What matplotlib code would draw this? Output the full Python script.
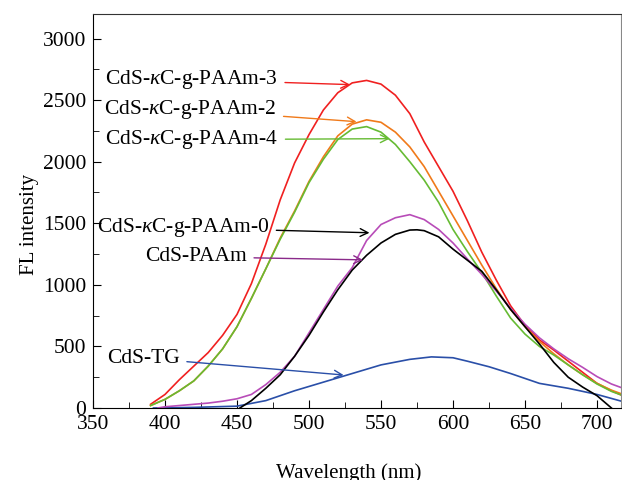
import numpy as np
import matplotlib.pyplot as plt
from matplotlib.ticker import MultipleLocator

plt.rcParams['font.family'] = ['Liberation Serif', 'DejaVu Serif']
plt.rcParams['mathtext.fontset'] = 'custom'
plt.rcParams['mathtext.rm'] = 'Liberation Serif'
plt.rcParams['mathtext.it'] = 'Liberation Serif:italic'

# CdS-kC-g-PAAm-3 (red)
wl_3 = [390, 400, 410, 420, 430, 440, 450, 460, 470, 480, 490, 500, 510, 520, 530, 540,
        550, 560, 570, 580, 590, 600, 610, 620, 630, 640, 650, 660, 670, 680, 690, 700, 710, 717]
fl_3 = [30, 110, 230, 340, 450, 590, 760, 1010, 1330, 1690, 1990, 2220, 2420, 2560, 2640, 2660,
        2630, 2540, 2390, 2160, 1960, 1760, 1520, 1265, 1040, 830, 670, 553, 470, 380, 290, 200, 140, 105]

# CdS-kC-g-PAAm-2 (orange)
wl_2 = [390, 400, 410, 420, 430, 440, 450, 460, 470, 480, 490, 500, 510, 520, 530, 540,
        550, 560, 570, 580, 590, 600, 610, 620, 630, 640, 650, 660, 670, 680, 690, 700, 710, 717]
fl_2 = [20, 70, 140, 220, 340, 480, 660, 890, 1130, 1380, 1600, 1840, 2040, 2210, 2305, 2340,
        2320, 2240, 2120, 1960, 1760, 1560, 1360, 1160, 970, 800, 660, 540, 440, 350, 270, 200, 145, 115]

# CdS-kC-g-PAAm-4 (green)
wl_4 = [390, 400, 410, 420, 430, 440, 450, 460, 470, 480, 490, 500, 510, 520, 530, 540,
        550, 560, 570, 580, 590, 600, 610, 620, 630, 640, 650, 660, 670, 680, 690, 700, 710, 717]
fl_4 = [20, 70, 140, 220, 340, 480, 660, 890, 1130, 1370, 1590, 1830, 2020, 2180, 2265, 2285,
        2240, 2140, 2000, 1850, 1670, 1450, 1270, 1100, 910, 730, 600, 500, 430, 350, 270, 195, 135, 105]

# CdS-kC-g-PAAm-0 (black)
wl_0 = [452, 460, 470, 480, 490, 500, 510, 520, 530, 540, 550, 560, 570, 575, 580, 590,
        600, 610, 620, 630, 640, 650, 660, 670, 680, 690, 700, 710]
fl_0 = [0, 60, 160, 270, 420, 590, 780, 960, 1120, 1240, 1340, 1410, 1445, 1447, 1440, 1390,
        1290, 1200, 1110, 960, 800, 660, 520, 370, 250, 170, 100, 0]

# CdS-PAAm (magenta)
wl_p = [395, 400, 410, 420, 430, 440, 450, 460, 470, 480, 490, 500, 510, 520, 530, 540,
        550, 560, 570, 580, 590, 600, 610, 620, 630, 640, 650, 660, 670, 680, 690, 700, 710, 717]
fl_p = [0, 10, 20, 30, 40, 55, 75, 110, 190, 290, 420, 610, 800, 990, 1140, 1360,
        1490, 1545, 1570, 1530, 1450, 1340, 1210, 1085, 950, 810, 680, 570, 480, 400, 330, 255, 195, 165]

# CdS-TG (blue)
wl_t = [392, 420, 450, 470, 490, 510, 530, 550, 570, 585, 600, 610, 625, 640, 660, 680, 700, 717]
fl_t = [0, 5, 15, 60, 140, 210, 280, 350, 395, 415, 408, 380, 335, 280, 200, 160, 110, 55]

labels = ['CdS-$\\mathit{κ}$C-g-PAAm-3', 'CdS-$\\mathit{κ}$C-g-PAAm-2', 'CdS-$\\mathit{κ}$C-g-PAAm-4',
          'CdS-$\\mathit{κ}$C-g-PAAm-0', 'CdS-PAAm', 'CdS-TG']
label_xy = [(478.5, 2667), (477.5, 2423), (478.8, 2179), (472.5, 1463), (457, 1228), (410.4, 406)]
arrow_end = [(528.5, 2626), (533, 2325), (556, 2187), (542, 1423), (537.5, 1203), (524, 268)]
arrow_col = ['#f02020', '#f07a1a', '#66bb33', 'black', '#8a2a8a', '#2a4fa8']

fig = plt.figure(figsize=(6.22, 4.8), dpi=100)
ax = fig.add_axes([0.1495, 0.15, 0.849, 0.821])

ax.plot(wl_3, fl_3, color='#f02020', lw=1.2)
ax.plot(wl_2, fl_2, color='#f07a1a', lw=1.2)
ax.plot(wl_4, fl_4, color='#66bb33', lw=1.2)
ax.plot(wl_t, fl_t, color='#2a4fa8', lw=1.2)
ax.plot(wl_p, fl_p, color='#b84cb8', lw=1.2)
ax.plot(wl_0, fl_0, color='black', lw=1.2)

for lab, xy, end, c in zip(labels, label_xy, arrow_end, arrow_col):
    ax.annotate(lab, xy=end, xytext=xy, fontsize=15.5, ha='right', va='center',
                arrowprops=dict(arrowstyle='->', color=c, lw=1.0,
                                shrinkA=3, shrinkB=0, mutation_scale=14))

ax.set_xlim(350, 716.7)
ax.set_ylim(0, 3200)
ax.set_xticks([350, 400, 450, 500, 550, 600, 650, 700])
ax.set_yticks([0, 500, 1000, 1500, 2000, 2500, 3000])
ax.xaxis.set_minor_locator(MultipleLocator(25))
ax.yaxis.set_minor_locator(MultipleLocator(250))
ax.tick_params(which='both', direction='in', labelsize=15.5, top=False, right=False)
ax.tick_params(which='major', length=6, pad=5)
ax.tick_params(which='minor', length=4)
ax.spines['top'].set_color('#333333')
ax.spines['right'].set_color('#888888')

ax.set_xlabel('Wavelength (nm)', fontsize=15, va='center')
ax.set_ylabel('FL intensity', fontsize=15, va='center')
ax.xaxis.set_label_coords(0.485, -0.165)
ax.yaxis.set_label_coords(-0.12, 0.467)

fig.savefig('out.png', dpi=100)
